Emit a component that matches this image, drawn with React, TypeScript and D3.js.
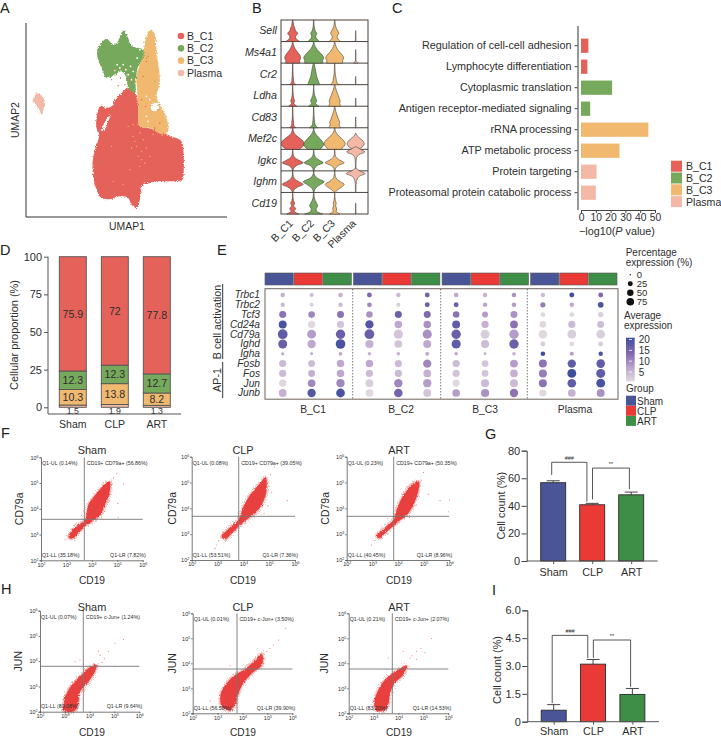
import React, { useEffect, useRef } from "react";
import * as d3 from "d3";

const FONT = "'Liberation Sans', Arial, sans-serif";
const INK = "#2e2e2e";

const clusters = ["B_C1", "B_C2", "B_C3", "Plasma"];
const clusterColors = ["#E5625A", "#77A95C", "#F0B96F", "#F3B9A6"];
const groups = ["Sham", "CLP", "ART"];
const groupColors = ["#4A5597", "#E93A36", "#3E8E48"];

// A: UMAP outlines, in read-off units of the unlabeled axes
const umapC1 = [[385, 265], [410, 285], [415, 320], [420, 380], [445, 385], [490, 400], [515, 410], [545, 425], [552, 470], [552, 510], [548, 540], [510, 545], [475, 545], [445, 552], [425, 570], [420, 600], [412, 625], [395, 615], [385, 595], [360, 590], [335, 598], [305, 595], [288, 565], [280, 530], [278, 490], [285, 450], [298, 405], [290, 385], [290, 355], [302, 318], [318, 325], [335, 320], [345, 300], [365, 280]];
const umapC2 = [[372, 90], [385, 115], [395, 138], [430, 150], [430, 175], [415, 200], [408, 240], [405, 280], [385, 265], [380, 235], [365, 215], [345, 225], [320, 235], [305, 205], [292, 170], [295, 145], [320, 118], [340, 135], [352, 130], [360, 110]];
const umapC3 = [[455, 90], [465, 105], [470, 150], [480, 250], [470, 290], [480, 315], [497, 345], [505, 395], [490, 405], [450, 385], [420, 380], [415, 320], [412, 270], [410, 230], [418, 200], [430, 170], [435, 130], [445, 100]];
const umapPlasma = [[112, 280], [128, 290], [135, 310], [130, 330], [125, 345], [118, 330], [103, 310], [100, 298]];
const umapHoles = [[[422, 566], [440, 550], [455, 560], [442, 575], [427, 573]], [[455, 315], [470, 310], [478, 325], [465, 335], [455, 330]], [[306, 392], [318, 362], [332, 345], [322, 372], [312, 392]]];
const umapGaps = [[370, 195], [378, 210], [360, 205], [385, 225], [392, 200], [345, 212], [352, 195], [400, 215], [395, 240], [420, 150], [412, 175], [440, 290], [450, 300], [440, 350], [445, 365]];
const strayC1 = [[350, 225], [335, 240], [355, 258], [375, 255], [390, 240], [398, 225], [372, 205], [305, 195], [325, 212], [430, 230], [440, 185], [445, 170], [425, 300], [437, 320], [475, 330], [480, 370], [465, 385], [395, 250], [345, 210], [362, 235]];
const strayC2 = [[432, 128], [440, 175], [465, 245], [478, 315], [395, 298], [400, 270], [318, 420], [295, 485], [325, 565], [345, 580], [410, 350]];
const strayC3 = [[400, 410], [420, 400], [430, 420], [410, 440], [425, 455], [395, 445], [415, 470], [435, 490], [420, 500], [385, 380], [400, 375], [440, 445], [425, 480], [405, 425], [370, 555], [340, 545], [450, 470], [390, 510], [335, 440], [460, 405]];

// B: violin half-widths read every eighth of a row, base upward
const violinGenes = ["Sell", "Ms4a1", "Cr2", "Ldha", "Cd83", "Mef2c", "Igkc", "Ighm", "Cd19"];
const violinC1 = [[7, 3.5, 3, 5, 3, 2, 1, 0.6, 0.2], [7, 7, 8, 7, 5, 3, 1.5, 0.6, 0.2], [3, 1, 0.8, 0.5, 0.4, 0.3, 0.3, 0.2, 0.2], [4, 1.2, 2, 1, 0.6, 0.4, 0.3, 0.2, 0.2], [3, 1, 1, 0.6, 0.4, 0.3, 0.3, 0.2, 0.2], [6, 10, 11.5, 10.5, 7.5, 4, 1.5, 0.5, 0.2], [0.3, 1, 4, 10.5, 6, 2, 0.6, 0.3, 0.2], [0.3, 1.5, 5, 10.5, 6, 2, 0.6, 0.3, 0.2], [6, 1.5, 3, 1, 2, 0.8, 0.4, 0.3, 0.2]];
const violinC2 = [[6, 3, 2, 3, 1.5, 0.8, 0.4, 0.3, 0.2], [9, 9, 10, 8.5, 6, 3.5, 1.7, 0.6, 0.2], [6, 5, 4, 3, 2.5, 2, 1.5, 1, 0.3], [5, 2, 3, 2, 1, 0.5, 0.3, 0.2, 0.2], [4, 1.5, 1, 0.7, 0.5, 0.3, 0.3, 0.2, 0.2], [6, 9, 10, 8.5, 6, 3.5, 1.5, 0.5, 0.2], [0.3, 1, 3.5, 9.5, 5.5, 2, 0.6, 0.3, 0.2], [0.3, 1, 3, 7, 10.5, 5, 1.5, 0.4, 0.2], [9, 3, 2.5, 4, 3, 1.5, 0.7, 0.4, 0.2]];
const violinC3 = [[6, 3, 2.5, 4, 3, 1.5, 0.7, 0.4, 0.2], [8, 8, 9, 7.5, 5, 3, 1.5, 0.6, 0.2], [4, 2, 1.5, 1, 0.6, 0.4, 0.3, 0.2, 0.2], [6, 5, 5.5, 4.5, 3.5, 2.5, 1.5, 0.8, 0.2], [6, 4.5, 5, 4, 3, 2, 1.2, 0.6, 0.2], [6, 9, 10.5, 9.5, 7, 4, 1.8, 0.6, 0.2], [0.3, 1, 3.5, 9.5, 5, 1.5, 0.5, 0.3, 0.2], [0.4, 3, 7, 9.5, 5.5, 2, 0.7, 0.3, 0.2], [5, 1.5, 2, 1, 1.5, 0.7, 0.3, 0.2, 0.2]];
const violinPlasma = [[0.3, 0.3, 0.25, 0.25, 0.2], [2, 0.4, 0.3, 0.25, 0.2, 0.2], [0.3, 0.3, 0.25, 0.2], [0.3, 0.3, 0.25, 0.2], [0.3, 0.3, 0.25, 0.2, 0.2], [3, 7, 8.5, 7.5, 4.5, 1.5, 0.2], [0.3, 0.3, 0.3, 0.4, 0.5, 1, 3, 9, 5, 0.2], [0.3, 0.3, 0.3, 0.4, 0.7, 1.5, 3.5, 9.5, 4, 0.2], [0.3, 0.3, 0.25, 0.25, 0.2]];

// C: enrichment
const terms = ["Regulation of cell-cell adhesion", "Lymphocyte differentiation", "Cytoplasmic translation", "Antigen receptor-mediated signaling", "rRNA processing", "ATP metabolic process", "Protein targeting", "Proteasomal protein catabolic process"];
const termValues = [5, 4.3, 21, 6.2, 45.5, 26, 10.5, 10];
const termCluster = [0, 0, 1, 1, 2, 2, 3, 3];

// D: stacked proportions, base to top: Plasma, B_C3, B_C2, B_C1
const propPlasma = [1.5, 1.9, 1.3];
const propC3 = [10.3, 13.8, 8.2];
const propC2 = [12.3, 12.3, 12.7];
const propC1 = [75.9, 72, 77.8];

// E: dot plot, columns are Sham/CLP/ART within each cluster
const dotGenes = ["Trbc1", "Trbc2", "Tcf3", "Cd24a", "Cd79a", "Ighd", "Igha", "Fosb", "Fos", "Jun", "Junb"];
const dotPct = [
  [10, 8, 10, 12, 10, 12, 10, 10, 10, 9, 12, 12],
  [9, 7, 9, 11, 7, 12, 12, 10, 10, 14, 9, 17],
  [28, 25, 28, 24, 28, 28, 24, 20, 28, 12, 12, 15],
  [38, 30, 30, 42, 33, 33, 38, 30, 36, 25, 30, 27],
  [60, 48, 55, 60, 52, 52, 55, 50, 55, 45, 48, 46],
  [50, 42, 58, 40, 35, 38, 52, 38, 55, 12, 10, 12],
  [4, 3, 6, 5, 5, 8, 5, 3, 5, 10, 7, 9],
  [30, 27, 33, 33, 30, 42, 30, 26, 37, 38, 42, 45],
  [30, 28, 33, 30, 30, 35, 30, 26, 35, 38, 48, 50],
  [30, 34, 40, 36, 42, 42, 28, 38, 38, 38, 45, 48],
  [36, 42, 47, 35, 45, 37, 35, 40, 42, 30, 35, 38],
];
const dotExpr = [
  [7, 6, 7, 14, 6, 15, 8, 7, 10, 6, 20, 14],
  [6, 4, 6, 11, 4, 16, 16, 8, 9, 12, 8, 19],
  [13, 11, 13, 10, 16, 14, 13, 9, 10, 3, 3, 4],
  [19, 3, 5, 18, 8, 10, 17, 7, 13, 3, 6, 6],
  [17, 9, 16, 16, 5, 10, 16, 4, 9, 3, 4, 4],
  [16, 8, 19, 7, 5, 8, 17, 6, 16, 4, 3, 4],
  [8, 8, 8, 7, 7, 7, 8, 7, 7, 20, 9, 19],
  [6, 6, 8, 8, 6, 11, 6, 5, 9, 13, 17, 17],
  [6, 7, 8, 6, 6, 7, 5, 5, 7, 12, 20, 17],
  [3, 11, 11, 4, 11, 9, 3, 6, 6, 13, 17, 19],
  [7, 18, 19, 3, 15, 5, 9, 10, 13, 3, 7, 10],
];
const pctLegend = [0, 25, 50, 75];
const exprLegend = [20, 15, 10, 5];

// F, H: flow gates, dense cloud outlines and stray events, all in log10 units
const flowDecades = [2, 3, 4, 5, 6];
const cloudFSham = [[3.08, 2.92], [3.34, 3.28], [3.73, 3.57], [3.86, 4.15], [4.19, 4.6], [4.56, 4.99], [4.71, 5.05], [4.69, 4.6], [4.52, 4.15], [4.32, 3.76], [3.99, 3.5], [3.73, 3.33], [3.47, 3.05], [3.21, 2.82]];
const cloudFClp = [[3.16, 2.9], [3.48, 3.26], [3.81, 3.55], [4, 4.06], [4.26, 4.52], [4.65, 4.97], [4.86, 5.2], [4.9, 4.71], [4.77, 4.26], [4.52, 3.87], [4.19, 3.61], [3.87, 3.35], [3.55, 3.03], [3.29, 2.8]];
const cloudFArt = [[3.17, 2.93], [3.49, 3.26], [3.82, 3.55], [3.97, 4], [4.21, 4.52], [4.6, 4.97], [4.82, 5.03], [4.73, 4.45], [4.53, 4], [4.34, 3.74], [4.01, 3.48], [3.75, 3.26], [3.43, 2.97], [3.27, 2.84]];
const cloudHSham = [[3.01, 2.59], [3.28, 3.06], [3.61, 3.39], [3.95, 3.72], [4.28, 3.85], [4.21, 3.58], [3.95, 3.19], [3.61, 2.79], [3.54, 2.33], [3.41, 2.04], [2.94, 2.04], [2.97, 2.33]];
const cloudHClp = [[3.13, 2.8], [3.37, 3.2], [3.7, 3.53], [4.11, 3.77], [4.58, 4.2], [4.78, 4.4], [4.78, 3.93], [4.38, 3.6], [4.04, 3.2], [3.84, 2.8], [3.7, 2.33], [3.5, 2.11], [3.17, 2.27]];
const cloudHArt = [[3.02, 2.4], [3.19, 2.94], [3.46, 3.34], [3.79, 3.61], [4.33, 3.91], [4.19, 3.54], [3.86, 3.21], [3.66, 2.81], [3.59, 2.34], [3.42, 2.11], [3.1, 2.11]];
const strayFSham = [[4.98, 5.38], [5.02, 4.21], [5.24, 4.96], [5.04, 3.67], [4.85, 5.2], [4.75, 4.9], [4.5, 3.9], [4.4, 3.6], [3.4, 3.45], [3.6, 3.75], [2.95, 2.8], [4.7, 4.3]];
const strayFClp = [[2.9, 2.45], [2.97, 2.58], [5.1, 4.6], [5.7, 4.3], [5.2, 5.6], [4.8, 3.8], [5.05, 5.3], [4.95, 4.1], [3.6, 3.5], [3.05, 2.75]];
const strayFArt = [[4.99, 5.39], [5.18, 4.55], [5.64, 4.3], [6, 4.32], [5.96, 3.87], [2.97, 2.58], [4.9, 5.1], [4.7, 4.1], [3.6, 3.6], [4.45, 3.65], [3.1, 2.75]];
const strayHSham = [[5.36, 4.86], [5.02, 4.71], [4.75, 4.38], [4.42, 4.24], [4.35, 4.4], [3.41, 3.98], [3.61, 4.05], [2.81, 2.2], [5.02, 3.78], [4.6, 4.1], [4.5, 3.95]];
const strayHClp = [[5.45, 4.93], [5.25, 4.73], [5.72, 5.4], [4.98, 4.47], [2.7, 2.49], [4.9, 4.2], [5.1, 4.6], [3.5, 3.9], [4.85, 4.5]];
const strayHArt = [[5.33, 4.99], [5.06, 4.42], [4.73, 4.48], [4.46, 4.21], [4.19, 4.48], [3.59, 4.21], [3.53, 3.74], [2.86, 2.13], [4.73, 4.15], [4.55, 4.3], [4.9, 4.6]];

// G, I: bars with error
const gMeans = [56.8, 40.8, 48];
const gErrors = [1.4, 1, 2];
const iMeans = [0.62, 3.1, 1.47];
const iErrors = [0.3, 0.25, 0.32];

type G = d3.Selection<SVGGElement, unknown, null, undefined>;
type TextOpts = { size?: number; anchor?: string; rotate?: number; italic?: boolean; fill?: string };

function label(g: G, x: number, y: number, s: string, o: TextOpts = {}) {
  return g.append("text")
    .attr("transform", `translate(${x},${y})${o.rotate ? ` rotate(${o.rotate})` : ""}`)
    .attr("text-anchor", o.anchor || "start")
    .attr("font-size", o.size || 10)
    .attr("font-style", o.italic ? "italic" : "normal")
    .attr("fill", o.fill || INK)
    .text(s);
}

function styleAxis(axis: G, size: number, stroke = "#555", width = 1) {
  axis.selectAll("path,line").attr("stroke", stroke).attr("stroke-width", width);
  axis.selectAll("text").attr("font-size", size).attr("font-family", FONT).attr("fill", INK);
}

// roughens filled outlines so they read as point clouds
function addGrain(root: G, id: string, scale: number, seed: number) {
  const f = root.append("filter").attr("id", id)
    .attr("x", "-15%").attr("y", "-15%").attr("width", "130%").attr("height", "130%")
    .attr("color-interpolation-filters", "sRGB");
  f.append("feTurbulence").attr("type", "fractalNoise").attr("baseFrequency", 0.9).attr("numOctaves", 2).attr("seed", seed).attr("result", "n");
  f.append("feDisplacementMap").attr("in", "SourceGraphic").attr("in2", "n").attr("scale", scale)
    .attr("xChannelSelector", "R").attr("yChannelSelector", "G");
}

function drawUmap(root: G) {
  const g = root.append("g");
  const x = d3.scaleLinear().domain([78, 682]).range([26, 227]);
  const y = d3.scaleLinear().domain([652, 70]).range([217, 23]);
  const line = d3.line<number[]>().x(d => x(d[0])).y(d => y(d[1])).curve(d3.curveCatmullRomClosed);
  const cloud = g.append("g").attr("filter", "url(#grainUmap)");
  [[umapC1, 0], [umapC3, 2], [umapC2, 1], [umapPlasma, 3]].forEach(([pts, c]: any) => {
    cloud.append("path").attr("d", line(pts)).attr("fill", clusterColors[c]);
  });
  umapHoles.forEach(h => cloud.append("path").attr("d", line(h)).attr("fill", "#fff"));
  const specks = (pts: number[][], fill: string, r: number) =>
    g.append("g").selectAll("circle").data(pts).join("circle")
      .attr("cx", d => x(d[0])).attr("cy", d => y(d[1])).attr("r", r).attr("fill", fill);
  specks(umapGaps, "#fff", 0.9);
  specks(strayC1, clusterColors[0], 0.7);
  specks(strayC2, clusterColors[1], 0.6);
  specks(strayC3, clusterColors[2], 0.7);

  g.append("path").attr("d", `M${x(78)},${y(70)}V${y(652)}H${x(682)}`).attr("fill", "none").attr("stroke", "#333").attr("stroke-width", 1);
  label(g, 127, 230, "UMAP1", { anchor: "middle", size: 10.4 });
  label(g, 19, 120, "UMAP2", { anchor: "middle", size: 10.4, rotate: -90 });
  const ly = d3.scalePoint<string>().domain(clusters).range([36, 73]);
  clusters.forEach((c, i) => {
    g.append("circle").attr("cx", 181).attr("cy", ly(c)!).attr("r", 3.3).attr("fill", clusterColors[i]);
    label(g, 187, ly(c)! + 3.7, c, { size: 10.5 });
  });
}

function drawViolins(root: G) {
  const g = root.append("g");
  const rows = d3.scaleBand().domain(violinGenes).range([20, 214]);
  const cols = d3.scalePoint<string>().domain(clusters).range([292.7, 355.7]);
  g.append("rect").attr("x", 281).attr("y", 20).attr("width", 87).attr("height", 194)
    .attr("fill", "none").attr("stroke", "#4a4038").attr("stroke-width", 1);
  violinGenes.slice(1).forEach(v => g.append("line").attr("x1", 281).attr("x2", 368)
    .attr("y1", rows(v)!).attr("y2", rows(v)!).attr("stroke", "#33302c").attr("stroke-width", 0.9));
  const profiles = [violinC1, violinC2, violinC3, violinPlasma];
  violinGenes.forEach((gene, r) => {
    const base = rows(gene)! + rows.bandwidth();
    const level = d3.scaleLinear().domain([0, 8]).range([base, rows(gene)!]);
    label(g, 277, rows(gene)! + rows.bandwidth() / 2 + 3.7, gene, { anchor: "end", size: 10.7, italic: true });
    clusters.forEach((c, k) => {
      const cx = cols(c)!;
      const area = d3.area<number>().y((_, i) => level(i)).x0(d => cx - d).x1(d => cx + d).curve(d3.curveCatmullRom);
      g.append("path").attr("d", area(profiles[k][r])).attr("fill", clusterColors[k])
        .attr("stroke", "#3a3733").attr("stroke-width", 0.55);
    });
  });
  clusters.forEach(c => label(g, cols(c)! + 1, 224, c, { anchor: "end", size: 10.5, rotate: -45 }));
}

function drawEnrichment(root: G) {
  const g = root.append("g");
  const x = d3.scaleLinear().domain([0, 50]).range([581, 655]);
  const y = d3.scaleBand().domain(terms).range([35.2, 203.2]).paddingInner(0.32).paddingOuter(0.16);
  g.selectAll("rect.term").data(terms).join("rect").attr("class", "term")
    .attr("x", x(0)).attr("y", d => y(d)!).attr("height", y.bandwidth())
    .attr("width", (_, i) => x(termValues[i]) - x(0))
    .attr("fill", (_, i) => clusterColors[termCluster[i]]);
  const left = g.append("g").attr("transform", "translate(578,0)").call(d3.axisLeft(y).tickSize(3.5).tickPadding(3));
  left.select(".domain").remove();
  styleAxis(left as any, 10.8, "#444");
  g.append("line").attr("x1", 578).attr("x2", 578).attr("y1", 26).attr("y2", 210).attr("stroke", "#777").attr("stroke-width", 1.5);
  const bottom = g.append("g").attr("transform", "translate(0,210)").call(d3.axisBottom(x).ticks(5).tickSize(3).tickPadding(1));
  styleAxis(bottom as any, 10.3, "#444");
  const title = label(g, 617, 234.5, "\u2212log10(", { anchor: "middle", size: 10.8 });
  title.append("tspan").attr("font-style", "italic").text("P");
  title.append("tspan").text(" value)");
  clusters.forEach((c, i) => {
    const yy = 160.7 + i * 11.8;
    g.append("rect").attr("x", 671).attr("y", yy).attr("width", 11).attr("height", 11).attr("fill", clusterColors[i]);
    label(g, 686, yy + 9.5, c, { size: 10.6 });
  });
}

function drawProportions(root: G) {
  const g = root.append("g");
  const y = d3.scaleLinear().domain([0, 100]).range([407.3, 256.7]);
  const x = d3.scaleBand().domain(groups).range([51.8, 177.8]).paddingInner(0.357).paddingOuter(0.1785);
  const rows = groups.map((name, i) => ({ name, plasma: propPlasma[i], c3: propC3[i], c2: propC2[i], c1: propC1[i] }));
  const layers = d3.stack<any>().keys(["plasma", "c3", "c2", "c1"])(rows);
  const fills = [clusterColors[3], clusterColors[2], clusterColors[1], clusterColors[0]];
  layers.forEach((layer, k) => {
    layer.forEach((seg, i) => {
      g.append("rect").attr("x", x(groups[i])!).attr("width", x.bandwidth())
        .attr("y", y(seg[1])).attr("height", y(seg[0]) - y(seg[1]))
        .attr("fill", fills[k]).attr("stroke", "#555").attr("stroke-width", 0.9);
      const value = seg[1] - seg[0];
      const cy = k === 0 ? 414.2 : (y(seg[0]) + y(seg[1])) / 2 + 3.8;
      label(g, x(groups[i])! + x.bandwidth() / 2, cy, String(+value.toFixed(1)), { anchor: "middle", size: k === 0 ? 8.8 : 10.6 });
    });
  });
  const left = g.append("g").attr("transform", "translate(48,0)").call(d3.axisLeft(y).tickValues([0, 25, 50, 75, 100]).tickSize(4).tickPadding(2));
  left.select(".domain").remove();
  styleAxis(left as any, 11);
  g.append("line").attr("x1", 48).attr("x2", 48).attr("y1", 256.7).attr("y2", 414).attr("stroke", "#555");
  const bottom = g.append("g").attr("transform", "translate(0,414)").call(d3.axisBottom(x).tickSize(0).tickPadding(7));
  bottom.select(".domain").attr("d", "M48,0H181");
  styleAxis(bottom as any, 10.5);
  label(g, 18, 335, "Cellular proportion (%)", { anchor: "middle", size: 11, rotate: -90 });
}

function drawDots(root: G) {
  const g = root.append("g");
  const outer = d3.scaleBand().domain(clusters).range([265, 617]).paddingInner(0.025);
  const inner = d3.scaleBand().domain(groups).range([0, outer.bandwidth()]).paddingInner(0.03);
  clusters.forEach(c => groups.forEach((s, i) => {
    g.append("rect").attr("x", outer(c)! + inner(s)!).attr("y", 273).attr("width", inner.bandwidth()).attr("height", 12)
      .attr("fill", groupColors[i]).attr("stroke", "#555").attr("stroke-width", 0.6);
  }));
  const columns = d3.range(12);
  const x = d3.scalePoint<number>().domain(columns).range([282.7, 600.7]);
  const y = d3.scalePoint<string>().domain(dotGenes).range([295, 393]);
  const size = d3.scaleSqrt().domain([0, 75]).range([0.5, 5.4]);
  const color = d3.scaleLinear<string>().domain([3, 8, 14, 20]).range(["#E0D7DF", "#BFA8CF", "#8068AE", "#3F4F9F"]);
  g.append("rect").attr("x", 265).attr("y", 288.7).attr("width", 353).attr("height", 110.5)
    .attr("fill", "none").attr("stroke", "#7a706a").attr("stroke-width", 1.1);
  [352.7, 440.7, 527.3].forEach(v => g.append("line").attr("x1", v).attr("x2", v).attr("y1", 289).attr("y2", 399)
    .attr("stroke", "#555").attr("stroke-width", 0.8).attr("stroke-dasharray", "1.5 1.5"));
  dotGenes.forEach((gene, r) => {
    label(g, 260, y(gene)! + 3.4, gene, { anchor: "end", size: 10.2, italic: true });
    g.append("g").selectAll("circle").data(columns).join("circle")
      .attr("cx", d => x(d)!).attr("cy", y(gene)!)
      .attr("r", d => size(dotPct[r][d])).attr("fill", d => color(dotExpr[r][d]));
  });
  clusters.forEach((c, i) => label(g, [313, 401, 485, 575][i], 412.5, c, { anchor: "middle", size: 10.3 }));
  label(g, 220.5, 322, "B cell activation", { anchor: "middle", size: 10.7, rotate: -90 });
  label(g, 220.5, 380, "AP-1", { anchor: "middle", size: 10.7, rotate: -90 });
  g.append("line").attr("x1", 222.7).attr("x2", 222.7).attr("y1", 284).attr("y2", 359).attr("stroke", "#333");
  g.append("line").attr("x1", 222.7).attr("x2", 222.7).attr("y1", 362).attr("y2", 398).attr("stroke", "#333");

  // legends
  label(g, 625.7, 255.7, "Percentage", { size: 10 });
  label(g, 625.7, 265.7, "expression (%)", { size: 10 });
  const legendY = d3.scalePoint<number>().domain(pctLegend).range([274.7, 301.7]);
  const legendSize = d3.scaleSqrt().domain([0, 75]).range([0.7, 3.8]);
  pctLegend.forEach(p => {
    g.append("circle").attr("cx", 630.3).attr("cy", legendY(p)!).attr("r", legendSize(p)).attr("fill", "#111");
    label(g, 636.7, legendY(p)! + 3.4, String(p), { size: 9.5 });
  });
  label(g, 624, 319, "Average", { size: 10 });
  label(g, 624, 329, "expression", { size: 10 });
  const defs = g.append("defs").append("linearGradient").attr("id", "expr").attr("x1", 0).attr("x2", 0).attr("y1", 1).attr("y2", 0);
  color.domain().forEach(d => defs.append("stop").attr("offset", (d - 3) / 17).attr("stop-color", color(d)));
  g.append("rect").attr("x", 626).attr("y", 337.7).attr("width", 8.7).attr("height", 43.6).attr("fill", "url(#expr)");
  const barY = d3.scaleLinear().domain([20, 5]).range([339.5, 372]);
  exprLegend.forEach(v => {
    g.append("line").attr("x1", 629).attr("x2", 632).attr("y1", barY(v)).attr("y2", barY(v)).attr("stroke", "#fff").attr("stroke-width", 0.8);
    label(g, 638.7, barY(v) + 3.6, String(v), { size: 10 });
  });
  label(g, 626, 392, "Group", { size: 10 });
  groups.forEach((s, i) => {
    g.append("rect").attr("x", 626).attr("y", 395.7 + i * 10.1).attr("width", 10).attr("height", 10).attr("fill", groupColors[i]);
    label(g, 637, 404.5 + i * 10.1, s, { size: 10 });
  });
}

type Flow = {
  title: string; yName: string; x0: number; x1: number; top: number; bottom: number;
  gateX: number; gateY: number; cloud: number[][]; stray: number[][]; tags: string[];
  titleX: number; yLabelX: number; titleY: number; xLabelY: number;
};

const flowPanels: Flow[] = [
  { title: "Sham", yName: "CD79a", x0: 41, x1: 142.7, top: 457.3, bottom: 560.3, gateX: 84.3, gateY: 519.3, cloud: cloudFSham, stray: strayFSham, titleX: 92, yLabelX: 23, titleY: 453.5, xLabelY: 584, tags: ["Q1-UL (0.14%)", "CD19+ CD79a+ (56.86%)", "Q1-LL (35.18%)", "Q1-LR (7.82%)"] },
  { title: "CLP", yName: "CD79a", x0: 191.7, x1: 295, top: 456.7, bottom: 560, gateX: 238.7, gateY: 516.3, cloud: cloudFClp, stray: strayFClp, titleX: 243, yLabelX: 176, titleY: 453.5, xLabelY: 584, tags: ["Q1-UL (0.08%)", "CD19+ CD79a+ (39.05%)", "Q1-LL (53.51%)", "Q1-LR (7.36%)"] },
  { title: "ART", yName: "CD79a", x0: 346.7, x1: 449.3, top: 456.7, bottom: 560, gateX: 393.7, gateY: 516.3, cloud: cloudFArt, stray: strayFArt, titleX: 399, yLabelX: 329, titleY: 453.5, xLabelY: 584, tags: ["Q1-UL (0.23%)", "CD19+ CD79a+ (50.35%)", "Q1-LL (40.45%)", "Q1-LR (8.96%)"] },
  { title: "Sham", yName: "JUN", x0: 40, x1: 139.3, top: 610.7, bottom: 711.7, gateX: 83.3, gateY: 666.3, cloud: cloudHSham, stray: strayHSham, titleX: 92, yLabelX: 22, titleY: 610.5, xLabelY: 736, tags: ["Q1-UL (0.07%)", "CD19+ c-Jun+ (1.24%)", "Q1-LL (89.08%)", "Q1-LR (9.64%)"] },
  { title: "CLP", yName: "JUN", x0: 192.7, x1: 292.3, top: 613.3, bottom: 713.3, gateX: 237, gateY: 669, cloud: cloudHClp, stray: strayHClp, titleX: 243, yLabelX: 176, titleY: 610.5, xLabelY: 736, tags: ["Q1-UL (0.01%)", "CD19+ c-Jun+ (3.50%)", "Q1-LL (56.58%)", "Q1-LR (39.90%)"] },
  { title: "ART", yName: "JUN", x0: 348.7, x1: 448.3, top: 613.3, bottom: 713.3, gateX: 392.3, gateY: 669, cloud: cloudHArt, stray: strayHArt, titleX: 399, yLabelX: 328, titleY: 610.5, xLabelY: 736, tags: ["Q1-UL (0.21%)", "CD19+ c-Jun+ (2.07%)", "Q1-LL (83.20%)", "Q1-LR (14.53%)"] },
];

function drawFlow(root: G, p: Flow) {
  const g = root.append("g");
  const x = d3.scaleLog().domain([1e2, 1e6]).range([p.x0, p.x1]);
  const y = d3.scaleLog().domain([1e2, 1e6]).range([p.bottom, p.top]);
  const path = d3.line<number[]>().x(d => x(10 ** d[0])).y(d => y(10 ** d[1])).curve(d3.curveCatmullRomClosed);
  g.append("path").attr("d", path(p.cloud)).attr("fill", "none")
    .attr("stroke", "#F08C88").attr("stroke-opacity", 0.55).attr("stroke-width", 3).attr("filter", "url(#grainHalo)");
  g.append("path").attr("d", path(p.cloud)).attr("fill", "#E8403E").attr("filter", "url(#grainFlow)");
  g.selectAll("circle").data(p.stray).join("circle")
    .attr("cx", d => x(10 ** d[0])).attr("cy", d => y(10 ** d[1])).attr("r", 0.55).attr("fill", "#EE6A66");
  const ticks = flowDecades.map(d => 10 ** d);
  const superscript = (axis: G) => axis.selectAll<SVGTextElement, number>("text").each(function (d) {
    const t = d3.select(this).text("10");
    t.append("tspan").attr("dy", -2).attr("font-size", 3.6).text(Math.round(Math.log10(d)));
  });
  const left = g.append("g").attr("transform", `translate(${p.x0},0)`).call(d3.axisLeft(y).tickValues(ticks).tickSize(1.5).tickPadding(1));
  const bottom = g.append("g").attr("transform", `translate(0,${p.bottom})`).call(d3.axisBottom(x).tickValues(ticks).tickSize(1.5).tickPadding(1));
  styleAxis(left as any, 5.5, "#555", 0.8);
  styleAxis(bottom as any, 5.5, "#555", 0.8);
  superscript(left as any);
  superscript(bottom as any);
  g.append("line").attr("x1", p.gateX).attr("x2", p.gateX).attr("y1", p.top).attr("y2", p.bottom).attr("stroke", "#777").attr("stroke-width", 0.9);
  g.append("line").attr("x1", p.x0).attr("x2", p.x1).attr("y1", p.gateY).attr("y2", p.gateY).attr("stroke", "#777").attr("stroke-width", 0.9);
  label(g, p.x0 + 1, p.top + 8, p.tags[0], { size: 5.3 });
  label(g, p.gateX + 2.5, p.top + 8, p.tags[1], { size: 5.3 });
  label(g, p.x0 + 1, p.bottom - 3.5, p.tags[2], { size: 5.3 });
  label(g, p.x1 + 3, p.bottom - 3.5, p.tags[3], { size: 5.3, anchor: "end" });
  label(g, p.titleX, p.titleY, p.title, { anchor: "middle", size: 10.9 });
  label(g, p.titleX, p.xLabelY, "CD19", { anchor: "middle", size: 10.2 });
  label(g, p.yLabelX, (p.top + p.bottom) / 2, p.yName, { anchor: "middle", size: 10.5, rotate: -90 });
}

type BarCfg = {
  means: number[]; errors: number[]; domainMax: number; ticks: number[]; tickFmt: (v: number) => string;
  xRange: [number, number]; yRange: [number, number]; axisX: number; axisEnd: number; titleX: number; titleY: number;
  labelPad: number; brackets: { a: number; b: number; top: number; fromA: number; fromB: number; text: string }[];
};

const gBrackets = [
  { a: 0, b: 1, top: 71.6, fromA: 62.4, fromB: 43, text: "###" },
  { a: 1, b: 2, top: 67.4, fromA: 44.7, fromB: 52, text: "**" },
];
const iBrackets = [
  { a: 0, b: 1, top: 4.65, fromA: 1, fromB: 3.43, text: "###" },
  { a: 1, b: 2, top: 4.4, fromA: 3.43, fromB: 1.88, text: "**" },
];

function drawBars(root: G, c: BarCfg) {
  const g = root.append("g");
  const x = d3.scalePoint<string>().domain(groups).range(c.xRange);
  const y = d3.scaleLinear().domain([0, c.domainMax]).range(c.yRange);
  const w = 25;
  groups.forEach((s, i) => {
    const cx = x(s)!;
    const top = y(c.means[i] + c.errors[i]);
    g.append("line").attr("x1", cx).attr("x2", cx).attr("y1", top).attr("y2", y(c.means[i])).attr("stroke", "#333").attr("stroke-width", 0.9);
    g.append("line").attr("x1", cx - 6.5).attr("x2", cx + 6.5).attr("y1", top).attr("y2", top).attr("stroke", "#333").attr("stroke-width", 0.9);
    g.append("rect").attr("x", cx - w / 2).attr("width", w).attr("y", y(c.means[i])).attr("height", y(0) - y(c.means[i]))
      .attr("fill", groupColors[i]).attr("stroke", "#2b2b2b").attr("stroke-width", 0.9);
  });
  const left = g.append("g").attr("transform", `translate(${c.axisX},0)`).call(d3.axisLeft(y).tickValues(c.ticks).tickFormat(c.tickFmt as any).tickSize(5).tickPadding(1.5));
  styleAxis(left as any, 11, "#444");
  const bottom = g.append("g").attr("transform", `translate(0,${y(0)})`).call(d3.axisBottom(x).tickSize(3).tickPadding(c.labelPad));
  bottom.select(".domain").attr("d", `M${c.axisX},0H${c.axisEnd}`);
  styleAxis(bottom as any, 10.8, "#555");
  label(g, c.titleX, c.titleY, "Cell count (%)", { anchor: "middle", size: 10.8, rotate: -90 });
  c.brackets.forEach(b => {
    const xa = x(groups[b.a])! + (b.a === 1 ? 0.3 : -1.5);
    const xb = x(groups[b.b])! + (b.b === 1 ? -5.3 : -1.8);
    g.append("path").attr("d", `M${xa},${y(b.fromA)}V${y(b.top)}H${xb}V${y(b.fromB)}`)
      .attr("fill", "none").attr("stroke", "#444").attr("stroke-width", 0.9);
    label(g, (xa + xb) / 2, y(b.top) - 2, b.text, { anchor: "middle", size: 5.5 });
  });
}

const panelTags: [string, number, number][] = [["A", 0, 13], ["B", 252, 13], ["C", 392, 13], ["D", 0, 255], ["E", 217, 255], ["F", 1, 438], ["G", 485, 439], ["H", 1, 594], ["I", 492, 595]];

const App = () => {
  const svgRef = useRef<SVGSVGElement>(null);

  useEffect(() => {
    const svg = d3.select(svgRef.current!);
    svg.selectAll("*").remove();
    const root = svg.append("g") as unknown as G;
    const filters = root.append("defs") as unknown as G;
    addGrain(filters, "grainUmap", 3.5, 4);
    addGrain(filters, "grainFlow", 3, 7);
    addGrain(filters, "grainHalo", 7, 11);
    drawUmap(root);
    drawViolins(root);
    drawEnrichment(root);
    drawProportions(root);
    drawDots(root);
    flowPanels.forEach(p => drawFlow(root, p));
    drawBars(root, {
      means: gMeans, errors: gErrors, domainMax: 80, ticks: [0, 20, 40, 60, 80], tickFmt: v => String(v),
      xRange: [553.2, 631.2], yRange: [561, 450.7], axisX: 526.7, axisEnd: 657.7, titleX: 505, titleY: 505.7, labelPad: 4, brackets: gBrackets,
    });
    drawBars(root, {
      means: iMeans, errors: iErrors, domainMax: 6, ticks: [0, 1.5, 3, 4.5, 6], tickFmt: v => (v === 0 ? "0" : v.toFixed(1)),
      xRange: [553.7, 632.4], yRange: [721.7, 610.3], axisX: 527.3, axisEnd: 659, titleX: 500.5, titleY: 670, labelPad: 3, brackets: iBrackets,
    });
    panelTags.forEach(([t, x, y]) => label(root, x, y, t, { size: 14.5, fill: "#222" }));
  }, []);

  return (
    <svg ref={svgRef} width={721} height={739} fontFamily={FONT}
      style={{ position: "absolute", left: 0, top: 0, background: "#fff" }} />
  );
};

export default App;
